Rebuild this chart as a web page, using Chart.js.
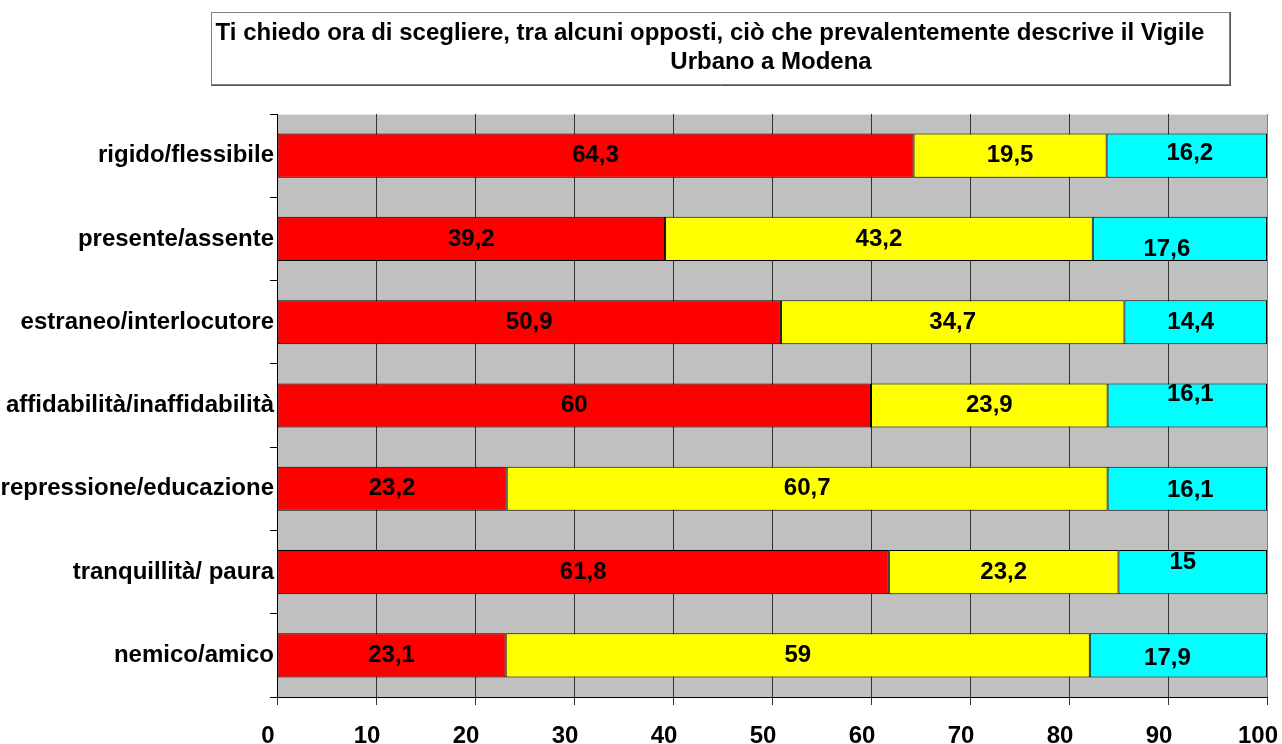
<!DOCTYPE html>
<html lang="it">
<head>
<meta charset="utf-8">
<title>Vigile Urbano a Modena</title>
<script src="https://cdn.jsdelivr.net/npm/chart.js@4/dist/chart.umd.min.js"></script>
<style>
  html, body { margin: 0; padding: 0; background: #fff; }
  canvas { display: block; }
</style>
</head>
<body>
<canvas id="grafico" width="1282" height="744"></canvas>
<script>
// coppie di opposti, dall'alto verso il basso
const categorie = [
  'rigido/flessibile',
  'presente/assente',
  'estraneo/interlocutore',
  'affidabilità/inaffidabilità',
  'repressione/educazione',
  'tranquillità/ paura',
  'nemico/amico'
];
const valoriRosso  = [64.3, 39.2, 50.9, 60, 23.2, 61.8, 23.1];
const valoriGiallo = [19.5, 43.2, 34.7, 23.9, 60.7, 23.2, 59];
const valoriAzzurro = [16.2, 17.6, 14.4, 16.1, 16.1, 15, 17.9];
const assexMin = 0, assexMax = 100, assexPasso = 10;

const titoloRighe = [
  'Ti chiedo ora di scegliere, tra alcuni opposti, ciò che prevalentemente descrive il Vigile',
  'Urbano a Modena'
];

const FONT = "'Liberation Sans', Arial, sans-serif";
Chart.defaults.font.family = FONT;

// piccoli spostamenti delle etichette azzurre [dx, dy]
const spostaAzzurro = [[3, -2], [-13, 10], [-5, 0], [3, -11], [3, 2], [-10, -10], [-11, 3]];

const virgola = v => String(v).replace('.', ',');

const sfondoGrigio = {
  id: 'sfondoGrigio',
  beforeDraw(chart) {
    const { ctx, chartArea: a } = chart;
    ctx.save();
    ctx.fillStyle = '#C0C0C0';
    ctx.fillRect(a.left, a.top, a.right - a.left, a.bottom - a.top);
    ctx.strokeStyle = '#e6e6e6';
    ctx.lineWidth = 1;
    ctx.beginPath();
    ctx.moveTo(a.left, a.top + 0.5);
    ctx.lineTo(a.right, a.top + 0.5);
    ctx.stroke();
    ctx.restore();
  }
};

const riquadroTitolo = {
  id: 'riquadroTitolo',
  beforeDraw(chart) {
    const ctx = chart.ctx;
    ctx.save();
    ctx.fillStyle = '#fff';
    ctx.fillRect(211, 12, 1018, 72);
    ctx.strokeStyle = '#808080';
    ctx.lineWidth = 1;
    ctx.strokeRect(211.5, 12.5, 1018, 72);
    ctx.strokeStyle = '#555';
    ctx.beginPath();
    ctx.moveTo(211, 85.5); ctx.lineTo(1230, 85.5);
    ctx.moveTo(1230.5, 12); ctx.lineTo(1230.5, 86);
    ctx.stroke();
    ctx.fillStyle = '#000';
    ctx.font = 'bold 24px ' + FONT;
    ctx.textAlign = 'center';
    ctx.textBaseline = 'middle';
    ctx.fillText(titoloRighe[0], 710, 33);
    ctx.fillText(titoloRighe[1], 771, 62);
    ctx.restore();
  }
};

const etichetteValori = {
  id: 'etichetteValori',
  afterDatasetsDraw(chart) {
    const ctx = chart.ctx;
    ctx.save();
    ctx.fillStyle = '#000';
    ctx.font = 'bold 24px ' + FONT;
    ctx.textAlign = 'center';
    ctx.textBaseline = 'middle';
    chart.data.datasets.forEach((ds, i) => {
      chart.getDatasetMeta(i).data.forEach((bar, j) => {
        let dx = 0, dy = 0;
        if (i === 2) { dx = spostaAzzurro[j][0]; dy = spostaAzzurro[j][1]; }
        ctx.fillText(virgola(ds.data[j]), (bar.x + bar.base) / 2 + dx, bar.y + dy);
      });
    });
    ctx.restore();
  }
};

const serie = (label, data, colore) => ({
  label, data,
  backgroundColor: colore,
  borderColor: '#000',
  borderWidth: 1,
  borderSkipped: false,
  categoryPercentage: 1,
  barPercentage: 0.53
});

new Chart(document.getElementById('grafico'), {
  type: 'bar',
  data: {
    labels: categorie,
    datasets: [
      serie('primo termine', valoriRosso, '#FF0000'),
      serie('intermedio', valoriGiallo, '#FFFF00'),
      serie('secondo termine', valoriAzzurro, '#00FFFF')
    ]
  },
  options: {
    indexAxis: 'y',
    responsive: false,
    animation: false,
    devicePixelRatio: 1,
    layout: { padding: { top: 114, right: 15, left: 0, bottom: 0 } },
    plugins: {
      legend: { display: false },
      tooltip: { enabled: false },
      title: { display: false }
    },
    scales: {
      x: {
        stacked: true,
        min: assexMin,
        max: assexMax,
        ticks: {
          stepSize: assexPasso,
          color: '#000',
          font: { size: 24, weight: 'bold' },
          padding: 17,
          labelOffset: -9,
          maxRotation: 0,
          autoSkip: false
        },
        grid: {
          color: c => (c.tick && c.tick.value === assexMax) ? '#808080' : '#333',
          tickColor: '#333',
          tickLength: 8
        },
        border: { color: '#000', width: 1 },
        afterFit(s) { s.height = 47; s.paddingLeft = 0; s.paddingRight = 0; }
      },
      y: {
        stacked: true,
        ticks: {
          color: '#000',
          font: { size: 24, weight: 'bold' },
          padding: -4,
          autoSkip: false
        },
        grid: {
          drawOnChartArea: false,
          offset: true,
          tickColor: '#000',
          tickLength: 7
        },
        border: { color: '#000', width: 1 },
        afterFit(s) { s.width = 277; s.paddingTop = 0; s.paddingBottom = 0; }
      }
    }
  },
  plugins: [sfondoGrigio, riquadroTitolo, etichetteValori]
});
</script>
</body>
</html>
